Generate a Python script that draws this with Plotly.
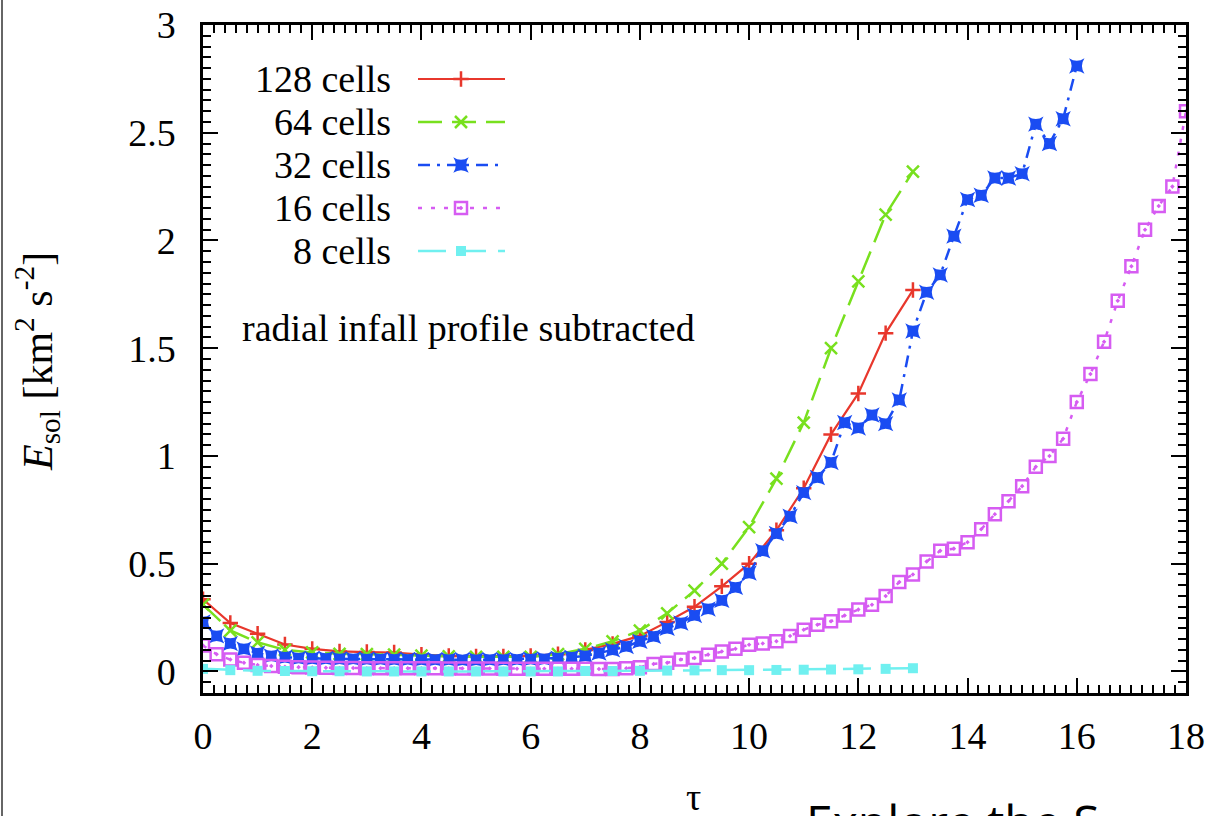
import plotly.graph_objects as go

# ---------------- data ----------------
tau_half = [0, 0.5, 1, 1.5, 2, 2.5, 3, 3.5, 4, 4.5, 5, 5.5, 6, 6.5, 7, 7.5, 8, 8.5,
            9, 9.5, 10, 10.5, 11, 11.5, 12, 12.5, 13]

e_128 = [0.335, 0.225, 0.175, 0.125, 0.105, 0.093, 0.09, 0.088, 0.078, 0.072, 0.07, 0.07,
         0.072, 0.08, 0.10, 0.128, 0.165, 0.23, 0.30, 0.395, 0.50, 0.655, 0.85, 1.10,
         1.29, 1.57, 1.77]

e_64 = [0.31, 0.19, 0.135, 0.10, 0.088, 0.082, 0.08, 0.078, 0.074, 0.07, 0.068, 0.068,
        0.068, 0.08, 0.105, 0.14, 0.19, 0.27, 0.375, 0.50, 0.67, 0.895, 1.155, 1.50,
        1.81, 2.12, 2.32]

tau_32 = [0, 0.25, 0.5, 0.75, 1, 1.25, 1.5, 1.75, 2, 2.25, 2.5, 2.75, 3, 3.25, 3.5, 3.75,
          4, 4.25, 4.5, 4.75, 5, 5.25, 5.5, 5.75, 6, 6.25, 6.5, 6.75, 7, 7.25, 7.5, 7.75,
          8, 8.25, 8.5, 8.75, 9, 9.25, 9.5, 9.75, 10, 10.25, 10.5, 10.75, 11, 11.25, 11.5,
          11.75, 12, 12.25, 12.5, 12.75, 13, 13.25, 13.5, 13.75, 14, 14.25, 14.5, 14.75,
          15, 15.25, 15.5, 15.75, 16]

e_32 = [0.23, 0.165, 0.13, 0.105, 0.085, 0.072, 0.066, 0.062, 0.06, 0.06, 0.058, 0.058,
        0.057, 0.057, 0.056, 0.056, 0.055, 0.055, 0.055, 0.054, 0.054, 0.055, 0.055, 0.056,
        0.057, 0.058, 0.062, 0.066, 0.072, 0.085, 0.10, 0.116, 0.14, 0.163, 0.20, 0.225,
        0.26, 0.29, 0.33, 0.39, 0.457, 0.56, 0.64, 0.72, 0.83, 0.90, 0.97, 1.155, 1.13,
        1.19, 1.15, 1.26, 1.58, 1.76, 1.84, 2.02, 2.19, 2.21, 2.29, 2.29, 2.31, 2.54, 2.45,
        2.565, 2.81]

tau_16 = [0, 0.25, 0.5, 0.75, 1, 1.25, 1.5, 1.75, 2, 2.25, 2.5, 2.75, 3, 3.25, 3.5, 3.75,
          4, 4.25, 4.5, 4.75, 5, 5.25, 5.5, 5.75, 6, 6.25, 6.5, 6.75, 7, 7.25, 7.5, 7.75,
          8, 8.25, 8.5, 8.75, 9, 9.25, 9.5, 9.75, 10, 10.25, 10.5, 10.75, 11, 11.25, 11.5,
          11.75, 12, 12.25, 12.5, 12.75, 13, 13.25, 13.5, 13.75, 14, 14.25, 14.5, 14.75,
          15, 15.25, 15.5, 15.75, 16, 16.25, 16.5, 16.75, 17, 17.25, 17.5, 17.75, 18]

e_16 = [0.12, 0.08, 0.055, 0.04, 0.03, 0.025, 0.022, 0.02, 0.018, 0.017, 0.016, 0.016,
        0.015, 0.015, 0.015, 0.015, 0.015, 0.015, 0.014, 0.014, 0.014, 0.014, 0.013, 0.013,
        0.013, 0.013, 0.013, 0.012, 0.012, 0.011, 0.011, 0.015, 0.02, 0.035, 0.04, 0.055,
        0.062, 0.078, 0.093, 0.105, 0.124, 0.13, 0.14, 0.165, 0.194, 0.217, 0.233, 0.26,
        0.287, 0.31, 0.35, 0.415, 0.45, 0.51, 0.56, 0.57, 0.60, 0.66, 0.73, 0.79, 0.86,
        0.95, 1.0, 1.08, 1.25, 1.38, 1.53, 1.72, 1.88, 2.05, 2.16, 2.25, 2.6]

e_8 = [0.012, 0.006, 0.003, 0.002, 0.001, 0.001, 0.0, 0.0, 0.0, 0.0, 0.0, 0.0, 0.0, 0.0,
       0.002, 0.002, 0.003, 0.004, 0.005, 0.006, 0.006, 0.007, 0.008, 0.009, 0.01, 0.012,
       0.015]

series_names = ["128 cells", "64 cells", "32 cells", "16 cells", "8 cells"]
x_ticks = [0, 2, 4, 6, 8, 10, 12, 14, 16, 18]
y_ticks = [0, 0.5, 1, 1.5, 2, 2.5, 3]
y_tick_text = ["0", "0.5", "1", "1.5", "2", "2.5", "3"]

# ---------------- styles ----------------
SERIF = "Liberation Serif"
colors = ["#e8372c", "#78e01e", "#1a4cf2", "#d65cf2", "#70f0f0"]
dashes = ["solid", "24px,10px", "12px,7px,3px,7px", "4px,9px", "28px,12px"]
widths = [2.2, 2.5, 2.5, 2.5, 2.5]
symbols = ["cross-thin", "x-thin", "star-square", "square-open-dot", "square"]
msizes = [11, 12, 14, 12, 10]

xs = [tau_half, tau_half, tau_32, tau_16, tau_half]
ys = [e_128, e_64, e_32, e_16, e_8]

fig = go.Figure()
for i in range(5):
    fill_sym = symbols[i] in ("star-square", "square")
    fig.add_trace(go.Scatter(
        x=xs[i], y=ys[i], mode="lines+markers", name=series_names[i],
        line=dict(color=colors[i], width=widths[i], dash=dashes[i]),
        marker=dict(symbol=symbols[i], size=msizes[i], color=colors[i],
                    line=dict(color=colors[i], width=0 if fill_sym else 2.5)),
        showlegend=False, cliponaxis=True,
    ))

# ---------------- hand-made gnuplot style key ----------------
W, H = 1213, 816
L, R, T, B = 203, 27, 25, 123
pw, ph = W - L - R, H - T - B


def px(xp):
    return (xp - L) / pw


def py(yp):
    return (H - B - yp) / ph


key_rows = [79, 122, 165, 208, 251]
annotations = []
shapes = []
for i, name in enumerate(series_names):
    yy = py(key_rows[i])
    annotations.append(dict(x=px(393), y=yy, xref="paper", yref="paper", text=name,
                            showarrow=False, xanchor="right", yanchor="middle",
                            font=dict(family=SERIF, size=38, color="black")))
    shapes.append(dict(type="line", xref="paper", yref="paper", x0=px(418), x1=px(505),
                       y0=yy, y1=yy, line=dict(color=colors[i], width=widths[i],
                                               dash=dashes[i])))
    fill_sym = symbols[i] in ("star-square", "square")
    fig.add_trace(go.Scatter(
        x=[px(461)], y=[yy], xaxis="x2", yaxis="y2", mode="markers", showlegend=False,
        marker=dict(symbol=symbols[i], size=msizes[i], color=colors[i],
                    line=dict(color=colors[i], width=0 if fill_sym else 2.5)),
        hoverinfo="skip"))

annotations.append(dict(x=px(240), y=py(328), xref="paper", yref="paper",
                        text="radial infall profile subtracted", showarrow=False,
                        xanchor="left", yanchor="middle",
                        font=dict(family=SERIF, size=38, color="black")))
# axis titles
annotations.append(dict(x=px(37), y=py(362), xref="paper", yref="paper", textangle=-90,
                        text="<i>E</i><sub>sol</sub> [km<sup>2</sup> s<sup>-2</sup>]",
                        showarrow=False, xanchor="center", yanchor="middle",
                        font=dict(family=SERIF, size=42, color="black")))
annotations.append(dict(x=px(693), y=py(797), xref="paper", yref="paper", text="τ",
                        showarrow=False, xanchor="center", yanchor="middle",
                        font=dict(family=SERIF, size=38, color="black")))
# cut-off page caption at the very bottom
annotations.append(dict(x=px(804), y=py(787), xref="paper", yref="paper",
                        text="Explore the S", showarrow=False, xanchor="left",
                        yanchor="top", font=dict(family="Open Sans", size=48, color="black")))

# page border line at the left edge
shapes.append(dict(type="line", xref="paper", yref="paper", x0=px(2), x1=px(2),
                   y0=py(0), y1=py(816), line=dict(color="#666666", width=2)))

axis_common = dict(showline=True, linecolor="black", linewidth=2.5, mirror="allticks",
                   ticks="inside", ticklen=15, tickwidth=2, tickcolor="black",
                   showgrid=False, zeroline=False, automargin=False,
                   tickfont=dict(family=SERIF, size=38, color="black"))

fig.update_layout(
    template="none",
    width=W, height=H, margin=dict(l=L, r=R, t=T, b=B, pad=0, autoexpand=False),
    paper_bgcolor="white", plot_bgcolor="white",
    xaxis=dict(range=[0, 18], tickvals=x_ticks, ticklabelstandoff=8,
               minor=dict(dtick=0.2, tick0=0, ticks="inside", ticklen=8, tickwidth=1.5,
                          tickcolor="black"),
               **axis_common),
    yaxis=dict(range=[-0.1, 3], tickvals=y_ticks, ticktext=y_tick_text,
               ticklabelstandoff=17,
               minor=dict(dtick=0.05, tick0=0, ticks="inside", ticklen=8, tickwidth=1.5,
                          tickcolor="black"),
               **axis_common),
    xaxis2=dict(range=[0, 1], overlaying="x", visible=False, fixedrange=True),
    yaxis2=dict(range=[0, 1], overlaying="y", visible=False, fixedrange=True),
    annotations=annotations, shapes=shapes, showlegend=False,
)

fig.write_html("out.html")
